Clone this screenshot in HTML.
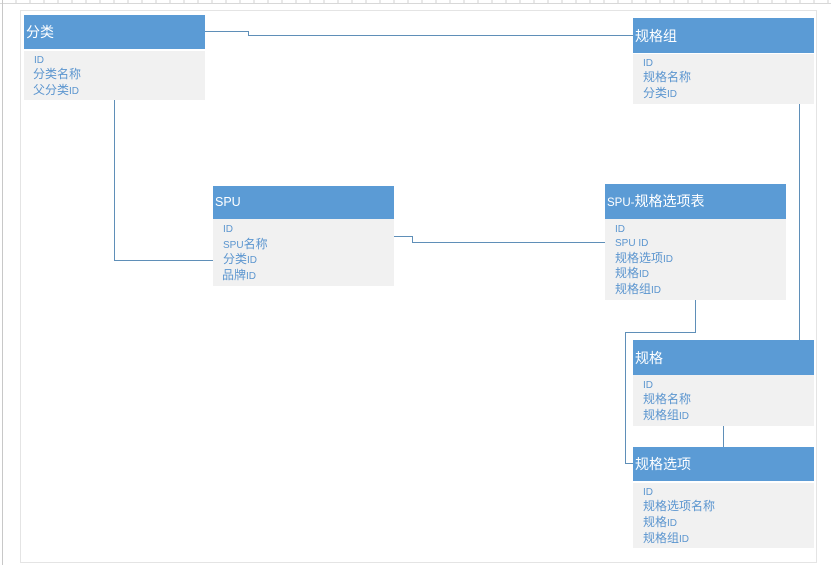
<!DOCTYPE html>
<html>
<head>
<meta charset="utf-8">
<style>
html,body{margin:0;padding:0;background:#fff;}
body{width:831px;height:565px;overflow:hidden;}
svg{display:block;}
text{font-family:"Liberation Sans","Noto Sans CJK SC",sans-serif;}
.h{fill:#fff;font-size:14px;}
.b{fill:#5b95cf;font-size:12px;}
.l{font-size:10px;}
</style>
</head>
<body>
<svg width="831" height="565" viewBox="0 0 831 565" xmlns="http://www.w3.org/2000/svg">
<rect width="831" height="565" fill="#fff"/>
<!-- ruler -->
<path d="M0 3.5H831" stroke="#d8d8d8" fill="none"/>
<path d="M2.5 0V565" stroke="#c8c8c8" fill="none"/>
<path d="M16 0V3M30 0V3M44 0V3M58 0V3M72 0V3M86 0V3M100 0V3M114 0V3M128 0V3M142 0V3M156 0V3M170 0V3M184 0V3M198 0V3M212 0V3M226 0V3M240 0V3M254 0V3M268 0V3M282 0V3M296 0V3M310 0V3M324 0V3M338 0V3M352 0V3M366 0V3M380 0V3M394 0V3M408 0V3M422 0V3M436 0V3M450 0V3M464 0V3M478 0V3M492 0V3M506 0V3M520 0V3M534 0V3M548 0V3M562 0V3M576 0V3M590 0V3M604 0V3M618 0V3M632 0V3M646 0V3M660 0V3M674 0V3M688 0V3M702 0V3M716 0V3M730 0V3M744 0V3M758 0V3M772 0V3M786 0V3M800 0V3M814 0V3M828 0V3" stroke="#d0d0d0" fill="none"/>
<!-- page outline -->
<rect x="20.5" y="10.5" width="796" height="552" fill="#fff" stroke="#e4e4e4"/>

<!-- connectors -->
<g fill="none" stroke="#5f8fb8" stroke-width="1">
<path d="M205 31.5H248.5V35.5H633"/>
<path d="M114.5 98V260.5H213"/>
<path d="M394 236.5H412.5V242.5H605"/>
<path d="M799.5 102V340"/>
<path d="M695.5 300V332.5H625.5V463.5H633"/>
<path d="M723.5 426V447"/>
</g>

<!-- 分类 -->
<rect x="24" y="51" width="181" height="49" fill="#f1f1f1"/>
<rect x="24" y="15" width="181" height="34" fill="#5b9bd5"/>
<text class="h" x="26" y="37">分类</text>
<text class="b" x="34" y="63"><tspan class="l">ID</tspan></text>
<text class="b" x="33" y="78">分类名称</text>
<text class="b" x="33" y="94">父分类<tspan class="l">ID</tspan></text>

<!-- 规格组 -->
<rect x="633" y="54" width="181" height="50" fill="#f1f1f1"/>
<rect x="633" y="18" width="181" height="35" fill="#5b9bd5"/>
<text class="h" x="635" y="41">规格组</text>
<text class="b" x="643" y="66"><tspan class="l">ID</tspan></text>
<text class="b" x="643" y="81">规格名称</text>
<text class="b" x="643" y="97">分类<tspan class="l">ID</tspan></text>

<!-- SPU -->
<rect x="213" y="219" width="181" height="67" fill="#f1f1f1"/>
<rect x="213" y="186" width="181" height="33" fill="#5b9bd5"/>
<text class="h" x="215" y="206" style="font-size:12.5px">SPU</text>
<text class="b" x="223" y="232"><tspan class="l">ID</tspan></text>
<text class="b" x="223" y="248"><tspan class="l">SPU</tspan>名称</text>
<text class="b" x="223" y="263">分类<tspan class="l">ID</tspan></text>
<text class="b" x="222" y="279">品牌<tspan class="l">ID</tspan></text>

<!-- SPU-规格选项表 -->
<rect x="605" y="219" width="181" height="81" fill="#f1f1f1"/>
<rect x="605" y="184" width="181" height="35" fill="#5b9bd5"/>
<text class="h" x="607" y="206"><tspan style="font-size:11.5px">SPU-</tspan>规格选项表</text>
<text class="b" x="615" y="232"><tspan class="l">ID</tspan></text>
<text class="b" x="615" y="246"><tspan class="l">SPU ID</tspan></text>
<text class="b" x="615" y="262">规格选项<tspan class="l">ID</tspan></text>
<text class="b" x="615" y="277">规格<tspan class="l">ID</tspan></text>
<text class="b" x="615" y="293">规格组<tspan class="l">ID</tspan></text>

<!-- 规格 -->
<rect x="633" y="375" width="181" height="51" fill="#f1f1f1"/>
<rect x="633" y="340" width="181" height="35" fill="#5b9bd5"/>
<text class="h" x="635" y="363">规格</text>
<text class="b" x="643" y="388"><tspan class="l">ID</tspan></text>
<text class="b" x="643" y="403">规格名称</text>
<text class="b" x="643" y="419">规格组<tspan class="l">ID</tspan></text>

<!-- 规格选项 -->
<rect x="633" y="483" width="181" height="65" fill="#f1f1f1"/>
<rect x="633" y="447" width="181" height="34" fill="#5b9bd5"/>
<text class="h" x="635" y="469">规格选项</text>
<text class="b" x="643" y="495"><tspan class="l">ID</tspan></text>
<text class="b" x="643" y="510">规格选项名称</text>
<text class="b" x="643" y="526">规格<tspan class="l">ID</tspan></text>
<text class="b" x="643" y="542">规格组<tspan class="l">ID</tspan></text>
</svg>
</body>
</html>
